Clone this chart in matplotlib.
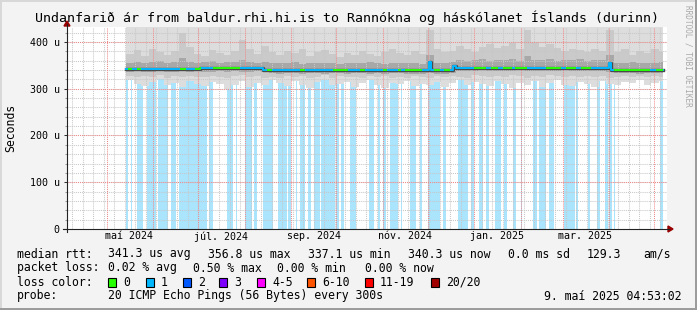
import numpy as np
import pandas as pd
import matplotlib
matplotlib.use("Agg")
import matplotlib.pyplot as plt
import matplotlib.dates as mdates
from matplotlib.path import Path
from matplotlib.patches import Rectangle, Polygon
from matplotlib.lines import Line2D

plt.rcParams['font.family'] = 'DejaVu Sans Mono'

# ---- data (values in microseconds) ----
t_start = "2024-04-04 04:53"
t_end = "2025-05-09 04:53"

# smoke samples, one every 5 days from 2024-05-14
smoke_first = "2024-05-14"
smoke_last_edge = "2025-05-07"
smoke_top = 440  # max ping is above the top of the graph everywhere
p_lo1 = [318, 310, 305, 314, 320, 308, 312, 303, 316, 310,
         306, 315, 311, 300, 309, 317, 304, 313, 308, 319,
         312, 305, 316, 309, 302, 314, 318, 307, 311, 315,
         304, 312, 319, 308, 301, 313, 310, 317, 306, 311,
         309, 315, 303, 312, 318, 307, 314, 310, 305, 316,
         311, 302, 313, 308, 317, 304, 312, 319, 309, 306,
         314, 310, 303, 316, 311, 308, 315, 312, 318, 309,
         313, 316]
p_lo2 = [327, 325, 328, 326, 329, 324, 327, 325, 328, 326,
         325, 328, 326, 324, 327, 329, 325, 327, 323, 326,
         324, 327, 325, 328, 323, 326, 329, 324, 327, 325,
         326, 323, 327, 325, 328, 324, 326, 322, 327, 325,
         323, 327, 325, 328, 326, 324, 329, 327, 325, 328,
         326, 329, 327, 324, 328, 326, 330, 327, 325, 328,
         326, 328, 325, 327, 324, 326, 328, 325, 327, 326,
         328, 325]
p_lo3 = [336, 337, 335, 336, 337, 336, 335, 337, 336, 337,
         336, 335, 337, 336, 337, 336, 335, 337, 336, 333,
         332, 334, 333, 332, 333, 334, 332, 333, 333, 332,
         334, 333, 332, 333, 332, 333, 334, 332, 331, 332,
         333, 332, 331, 334, 338, 337, 338, 339, 337, 338,
         337, 338, 339, 338, 337, 338, 337, 338, 339, 337,
         338, 337, 338, 337, 336, 333, 334, 333, 332, 333,
         334, 333]
p_hi3 = [356, 358, 355, 357, 359, 356, 357, 366, 358, 356,
         357, 359, 356, 358, 357, 362, 357, 355, 358, 356,
         354, 355, 357, 353, 355, 356, 354, 355, 353, 356,
         354, 355, 357, 354, 353, 355, 354, 356, 355, 353,
         372, 356, 354, 357, 362, 360, 361, 363, 360, 362,
         361, 363, 360, 370, 362, 361, 363, 360, 362, 361,
         364, 360, 362, 361, 372, 356, 355, 357, 354, 356,
         355, 357]
p_hi2 = [375, 382, 370, 386, 378, 372, 380, 420, 390, 375,
         370, 383, 376, 372, 380, 405, 385, 375, 392, 378,
         372, 380, 376, 385, 370, 378, 382, 374, 368, 376,
         372, 380, 375, 370, 378, 384, 376, 372, 380, 374,
         425, 386, 378, 380, 392, 385, 378, 390, 395, 388,
         392, 398, 385, 425, 400, 390, 395, 388, 380, 385,
         382, 378, 386, 380, 425, 378, 384, 372, 380, 376,
         385, 378]

# median rtt, piecewise constant from each date
med_dates = ["2024-05-14", "2024-07-02", "2024-08-13", "2024-11-26", "2024-12-02",
             "2024-12-03", "2024-12-18", "2024-12-20", "2025-04-01", "2025-04-02",
             "2025-05-07"]
med_vals = [343, 344, 340, 339, 357, 339, 349, 345, 356, 340, 340]

# stretches where the median line is drawn green (no loss), blue elsewhere
green_spans = [("2024-05-15", "2024-05-18"), ("2024-05-21", "2024-05-24"),
               ("2024-06-19", "2024-06-23"), ("2024-06-29", "2024-07-03"),
               ("2024-07-11", "2024-07-29"), ("2024-08-16", "2024-08-19"),
               ("2024-09-07", "2024-09-10"), ("2024-09-29", "2024-10-09"),
               ("2024-10-17", "2024-10-20"), ("2024-11-01", "2024-11-04"),
               ("2024-11-11", "2024-11-13"), ("2024-11-16", "2024-11-27"),
               ("2024-12-05", "2024-12-09"), ("2024-12-12", "2024-12-16"),
               ("2025-01-01", "2025-01-09"), ("2025-01-12", "2025-01-17"),
               ("2025-01-20", "2025-01-26"), ("2025-01-28", "2025-02-05"),
               ("2025-02-18", "2025-02-28"), ("2025-03-03", "2025-03-10"),
               ("2025-03-13", "2025-03-20"), ("2025-04-04", "2025-04-28"),
               ("2025-05-02", "2025-05-07")]

# loss background bars
loss_spans = [("2024-05-14", "2024-05-15"), ("2024-05-17", "2024-05-18"),
              ("2024-05-21", "2024-05-25"), ("2024-05-28", "2024-06-03"),
              ("2024-06-04", "2024-06-11"), ("2024-06-13", "2024-06-16"),
              ("2024-06-18", "2024-07-07"), ("2024-07-08", "2024-07-11"),
              ("2024-07-20", "2024-07-24"), ("2024-07-26", "2024-07-27"),
              ("2024-08-01", "2024-08-06"), ("2024-08-07", "2024-08-09"),
              ("2024-08-13", "2024-08-20"), ("2024-08-23", "2024-08-29"),
              ("2024-08-30", "2024-09-01"), ("2024-09-04", "2024-09-05"),
              ("2024-09-07", "2024-09-10"), ("2024-09-12", "2024-09-14"),
              ("2024-09-16", "2024-09-20"), ("2024-09-21", "2024-09-30"),
              ("2024-10-01", "2024-10-03"), ("2024-10-04", "2024-10-06"),
              ("2024-10-10", "2024-10-14"), ("2024-10-23", "2024-10-26"),
              ("2024-10-29", "2024-10-30"), ("2024-11-01", "2024-11-03"),
              ("2024-11-06", "2024-11-11"), ("2024-11-13", "2024-11-14"),
              ("2024-11-19", "2024-11-23"), ("2024-11-26", "2024-11-27"),
              ("2024-12-01", "2024-12-09"), ("2024-12-11", "2024-12-13"),
              ("2024-12-21", "2024-12-28"), ("2024-12-30", "2025-01-01"),
              ("2025-01-04", "2025-01-07"), ("2025-01-09", "2025-01-11"),
              ("2025-01-15", "2025-01-19"), ("2025-01-21", "2025-01-23"),
              ("2025-01-27", "2025-01-29"), ("2025-02-01", "2025-02-02"),
              ("2025-02-09", "2025-02-12"), ("2025-02-13", "2025-02-18"),
              ("2025-02-20", "2025-02-23"), ("2025-03-02", "2025-03-09"),
              ("2025-03-10", "2025-03-11"), ("2025-03-18", "2025-03-19"),
              ("2025-03-24", "2025-03-26"), ("2025-03-29", "2025-03-31"),
              ("2025-04-01", "2025-04-03"), ("2025-04-04", "2025-04-05"),
              ("2025-05-05", "2025-05-07")]

xlabel_dates = ["2024-05-16", "2024-07-16", "2024-09-16", "2024-11-16", "2025-01-16", "2025-03-16"]
xlabel_text = ["maí 2024", "júl. 2024", "sep. 2024", "nóv. 2024", "jan. 2025", "mar. 2025"]
yticks = [0, 100, 200, 300, 400]
ytick_text = ["0", "100 u", "200 u", "300 u", "400 u"]

loss_names = ["0", "1", "2", "3", "4-5", "6-10", "11-19", "20/20"]
loss_colors = ["#26ff00", "#00b8ff", "#0059ff", "#7e00ff", "#ff00ff", "#ff5500", "#ff0000", "#a10000"]

# ---- figure ----
W, H = 697, 310
fig = plt.figure(figsize=(W / 100, H / 100), dpi=100, facecolor="#f3f3f3")


def fx(x):
    return x / W


def fy(y):
    return 1 - y / H


ax = fig.add_axes([fx(66.5), fy(229), 600 / W, 202 / H])
ax.set_facecolor("white")
for s in ax.spines.values():
    s.set_visible(False)

d = lambda s: mdates.date2num(pd.Timestamp(s).to_pydatetime())
ax.set_xlim(d(t_start), d(t_end))
ax.set_ylim(0, 432)

# loss background
for s, e in loss_spans:
    ax.axvspan(d(s), d(e), color="#aae4fd", lw=0, zorder=1)

# smoke
sx = [d(t) for t in pd.date_range(smoke_first, periods=len(p_lo1), freq="5D")] + [d(smoke_last_edge)]
ext = lambda a: np.append(np.array(a, float), a[-1])
top = np.full(len(sx), smoke_top)
ax.fill_between(sx, ext(p_lo1), top, step="post", color="#dddddd", lw=0, zorder=2)
ax.fill_between(sx, ext(p_lo2), ext(p_hi2), step="post", color="#cacaca", lw=0, zorder=2.1)
ax.fill_between(sx, ext(p_lo3), ext(p_hi3), step="post", color="#a8a8a8", lw=0, zorder=2.2)

# grid
t0, t1 = pd.Timestamp(t_start), pd.Timestamp(t_end)
for t in pd.date_range(t0.normalize(), t1, freq="W-MON"):
    ax.axvline(d(t), color="#c8c8c8", lw=0.75, ls=(0, (1, 1)), zorder=3)
for yv in range(20, 432, 20):
    ax.axhline(yv, color="#c8c8c8", lw=0.75, ls=(0, (1, 1)), zorder=3)
for t in pd.date_range(t0.normalize(), t1, freq="MS"):
    ax.axvline(d(t), color="#f08a8a", lw=0.75, ls=(0, (1, 1)), zorder=3.1)
for yv in yticks[1:]:
    ax.axhline(yv, color="#f08a8a", lw=0.75, ls=(0, (1, 1)), zorder=3.1)

# median line
mx = [d(t) for t in med_dates]
mv = med_vals
ax.step(mx, mv, where="post", color="#4a4a4a", lw=2.4, zorder=4)
ax.step(mx, mv, where="post", color=loss_colors[1], lw=1.4, zorder=5)
gl, = ax.step(mx, mv, where="post", color=loss_colors[0], lw=1.4, zorder=6)
verts, codes = [], []
for s, e in green_spans:
    a, b = d(s), d(e)
    verts += [(a, 0), (b, 0), (b, 500), (a, 500), (a, 0)]
    codes += [Path.MOVETO, Path.LINETO, Path.LINETO, Path.LINETO, Path.CLOSEPOLY]
gl.set_clip_path(Path(verts, codes), ax.transData)

# ticks
ax.set_xticks([d(t) for t in xlabel_dates])
ax.set_xticklabels(xlabel_text)
ax.tick_params(axis="x", length=0, pad=1.5, labelsize=7.2)
ax.set_yticks(yticks)
ax.set_yticklabels(ytick_text)
ax.set_yticks(range(20, 432, 20), minor=True)
ax.tick_params(axis="y", which="major", length=2.5, width=0.75, color="#333333", pad=2.5, labelsize=7.2)
ax.tick_params(axis="y", which="minor", length=1.5, width=0.75, color="#999999")

# axes with arrows
fig.add_artist(Line2D([fx(63), fx(669)], [fy(229), fy(229)], color="#222222", lw=0.8))
fig.add_artist(Line2D([fx(67), fx(67)], [fy(232), fy(24)], color="#222222", lw=0.8))
fig.add_artist(Polygon([(fx(668), fy(226)), (fx(673), fy(229)), (fx(668), fy(232))],
                       closed=True, color="#990000", transform=fig.transFigure))
fig.add_artist(Polygon([(fx(64), fy(26)), (fx(67), fy(21)), (fx(70), fy(26))],
                       closed=True, color="#990000", transform=fig.transFigure))

# frame shading
fig.add_artist(Rectangle((0, fy(2)), 1, 2 / H, color="#d8d8d8", transform=fig.transFigure, lw=0))
fig.add_artist(Rectangle((0, 0), 2 / W, 1, color="#d8d8d8", transform=fig.transFigure, lw=0))
fig.add_artist(Rectangle((0, 0), 1, 2 / H, color="#9c9c9c", transform=fig.transFigure, lw=0))
fig.add_artist(Rectangle((fx(695), 0), 2 / W, 1, color="#9c9c9c", transform=fig.transFigure, lw=0))

# texts
fig.text(fx(347), fy(18), "Undanfarið ár from baldur.rhi.hi.is to Rannókna og háskólanet Íslands (durinn)",
         ha="center", va="center", fontsize=9.5)
fig.text(fx(11), fy(128), "Seconds", rotation=90, ha="center", va="center", fontsize=8.3)
fig.text(fx(688), fy(5), "RRDTOOL / TOBI OETIKER", rotation=270, ha="center", va="top",
         fontsize=5.6, color="#a8a8a8")

fs = 8.3
row1 = [(17, "median rtt:"), (108, "341.3 us avg"), (208, "356.8 us max"), (308, "337.1 us min"),
        (408, "340.3 us now"), (508, "0.0 ms sd"), (587, "129.3"), (643, "am/s")]
for x, s in row1:
    fig.text(fx(x), fy(254), s, va="center", fontsize=fs)
row2 = [(17, "packet loss:"), (108, "0.02 % avg"), (193, "0.50 % max"), (277, "0.00 % min"),
        (365, "0.00 % now")]
for x, s in row2:
    fig.text(fx(x), fy(268), s, va="center", fontsize=fs)
fig.text(fx(17), fy(282), "loss color:", va="center", fontsize=fs)
box_x = [108, 146, 183, 219, 257, 307, 365, 431]
for bx, name, c in zip(box_x, loss_names, loss_colors):
    fig.add_artist(Rectangle((fx(bx), fy(286.5)), 8 / W, 9 / H, facecolor=c, edgecolor="black",
                             lw=0.8, transform=fig.transFigure))
    fig.text(fx(bx + 15), fy(282), name, va="center", fontsize=fs)
fig.text(fx(17), fy(296), "probe:", va="center", fontsize=fs)
fig.text(fx(108), fy(296), "20 ICMP Echo Pings (56 Bytes) every 300s", va="center", fontsize=fs)
fig.text(fx(682), fy(296), "9. maí 2025 04:53:02", ha="right", va="center", fontsize=fs)

fig.savefig("out.png", dpi=100, facecolor=fig.get_facecolor())
